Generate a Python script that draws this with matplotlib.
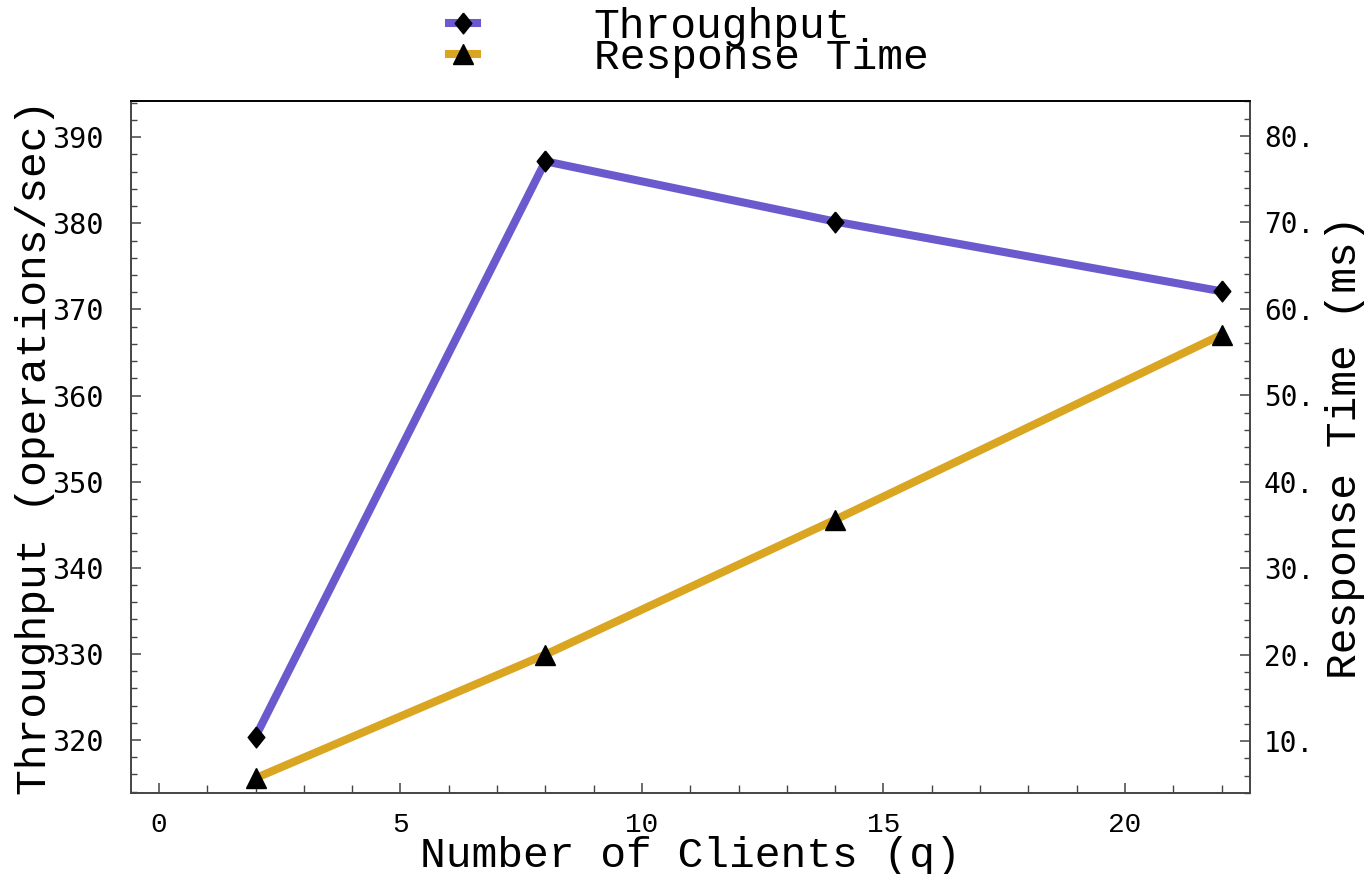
import matplotlib
matplotlib.use("Agg")
import matplotlib.pyplot as plt
from matplotlib.lines import Line2D
from matplotlib.ticker import MultipleLocator, FuncFormatter

clients = [2, 8, 14, 22]
throughput = [320.4, 387.2, 380.2, 372.1]
response_time = [5.7, 20.0, 35.6, 57.0]

series_names = ["Throughput", "Response Time"]
xlabel = "Number of Clients (q)"
ylabel_left = "Throughput (operations/sec)"
ylabel_right = "Response Time (ms)"

c_tp = "#6A5ACD"
c_rt = "#DAA520"
spine_c = "#444444"
mono = "Liberation Mono"
mono_sans = "DejaVu Sans Mono"

diamond = [(0, 1), (0.8, 0), (0, -1), (-0.8, 0), (0, 1)]

fig = plt.figure(figsize=(13.67, 8.74), dpi=100)
ax = fig.add_axes([131/1367, 1-793/874, (1250-131)/1367, (793-101)/874])
ax2 = ax.twinx()

ax.plot(clients, throughput, color=c_tp, lw=5.8, marker=diamond, ms=15,
        mfc="black", mec="black", zorder=3, solid_capstyle="butt")
ax2.plot(clients, response_time, color=c_rt, lw=5.8, marker="^", ms=14.5,
         mfc="black", mec="black", zorder=3, solid_capstyle="butt")

ax.set_xlim(-0.58, 22.59)
ax.set_ylim(313.84, 394.2)
ax2.set_ylim(3.98, 84.05)

ax.xaxis.set_major_locator(MultipleLocator(5))
ax.xaxis.set_minor_locator(MultipleLocator(1))
ax.yaxis.set_major_locator(MultipleLocator(10))
ax.yaxis.set_minor_locator(MultipleLocator(2))
ax2.yaxis.set_major_locator(MultipleLocator(10))
ax2.yaxis.set_minor_locator(MultipleLocator(2))
ax2.yaxis.set_major_formatter(FuncFormatter(lambda v, p: f"{int(round(v))}."))

for a in (ax, ax2):
    for s in a.spines.values():
        s.set_color(spine_c)
        s.set_linewidth(1.2)
    a.spines["top"].set_color("black")

ax.tick_params(axis="y", which="major", direction="in", length=7, width=1.1,
               color=spine_c, labelsize=20.5, pad=20)
ax.tick_params(axis="y", which="minor", direction="in", length=4, width=1.0,
               color=spine_c)
ax.tick_params(axis="x", which="major", direction="in", length=7, width=1.1,
               color=spine_c, labelsize=20, pad=14)
ax.tick_params(axis="x", which="minor", direction="in", length=6, width=1.0,
               color=spine_c)
ax.tick_params(axis="x", top=False, which="both")
ax2.tick_params(axis="y", which="major", direction="in", length=7, width=1.1,
                color=spine_c, labelsize=20, pad=10)
ax2.tick_params(axis="y", which="minor", direction="in", length=4, width=1.0,
                color=spine_c)

for lbl in ax.get_xticklabels():
    lbl.set_fontfamily(mono)
for lbl in ax.get_yticklabels() + ax2.get_yticklabels():
    lbl.set_fontfamily(mono_sans)

ax.set_xlabel(xlabel, fontfamily=mono, fontsize=31, labelpad=-2)
ax.set_ylabel(ylabel_left, fontfamily=mono, fontsize=31, labelpad=-2)
ax2.set_ylabel(ylabel_right, fontfamily=mono, fontsize=31, labelpad=8)

handles = [
    Line2D([], [], color=c_tp, lw=5.8, marker=diamond, ms=15, mfc="black", mec="black"),
    Line2D([], [], color=c_rt, lw=5.8, marker="^", ms=14.5, mfc="black", mec="black"),
]
leg = fig.legend(handles, series_names, loc="upper center",
                 bbox_to_anchor=(0.504, 1.012), frameon=False,
                 prop={"family": mono, "size": 31}, handlelength=0.65,
                 handletextpad=2.7, labelspacing=-0.2, borderaxespad=0)
for t in leg.get_texts():
    t.set_ha("left")

fig.savefig("out.png", dpi=100)
